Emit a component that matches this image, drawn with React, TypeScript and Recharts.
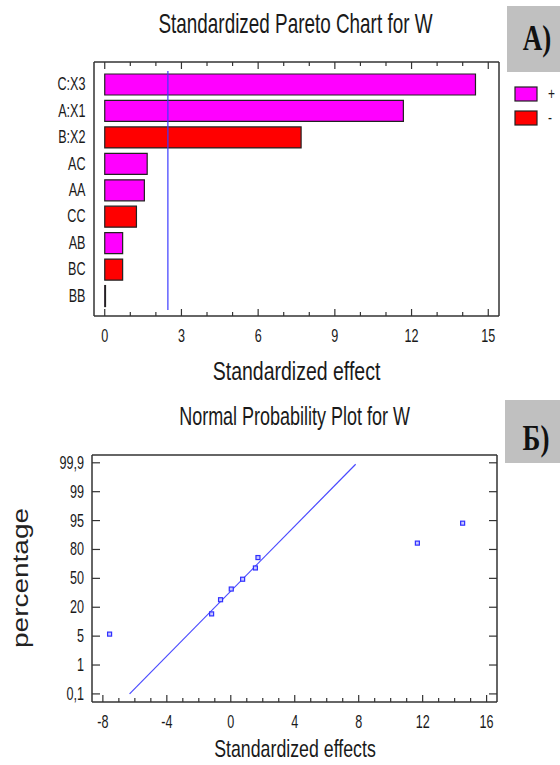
import { BarChart, Bar, Cell, XAxis, YAxis, ReferenceLine, ScatterChart, Scatter } from 'recharts'

const FONT = '"Liberation Sans", Arial, sans-serif'
const SERIF = '"Liberation Serif", "Times New Roman", serif'
const INK = '#1a1a1a'
const FRAME = { stroke: '#333', strokeWidth: 1.5 }

// Pareto chart data (sorted by size of effect)
const factors = ['C:X3', 'A:X1', 'B:X2', 'AC', 'AA', 'CC', 'AB', 'BC', 'BB']
const effects = [14.5, 11.68, 7.68, 1.66, 1.55, 1.24, 0.7, 0.7, 0.03]
const effectSigns = ['+', '+', '-', '+', '+', '-', '+', '-', '+']
const criticalEffect = 2.47
const paretoTicks = [0, 1, 2, 3, 4, 5, 6, 7, 8, 9, 10, 11, 12, 13, 14, 15]
const paretoLabels = [0, 3, 6, 9, 12, 15]

// normal probability plot data
const probEffects = [-7.58, -1.2, -0.64, 0.03, 0.74, 1.54, 1.7, 11.67, 14.5]
const probRanks = [2.07, 2.77, 3.26, 3.63, 3.97, 4.36, 4.72, 5.22, 5.91]
const percentLabels = ['0,1', '1', '5', '20', '50', '80', '95', '99', '99,9']
const percentTicks = [0, 1, 2, 3, 4, 5, 6, 7, 8]
const probTicks = [-8, -7, -6, -5, -4, -3, -2, -1, 0, 1, 2, 3, 4, 5, 6, 7, 8, 9, 10, 11, 12, 13, 14, 15, 16]
const probLabels = [-8, -4, 0, 4, 8, 12, 16]
const fitLineX = [-6.33, 7.81]
const fitLineY = [0, 7.95]

const signColors: Record<string, string> = { '+': '#ff00ff', '-': '#ff0000' }

const paretoData = factors.map((name, i) => ({ name, value: effects[i], sign: effectSigns[i] }))
const probData = probEffects.map((x, i) => ({ x, y: probRanks[i] }))

function XTick(props: any) {
  const { x, y, payload, labels, side } = props
  const v = payload.value
  const major = labels.includes(v)
  const len = major ? 7 : 4
  const dir = side === 'bottom' ? -1 : 1
  return (
    <g>
      <line x1={x} x2={x} y1={y} y2={y + dir * len} stroke="#333" strokeWidth={1.2} />
      {side === 'bottom' && major && (
        <text transform={`translate(${x},${y + 26}) scale(0.7,1)`} textAnchor="middle" fontSize={18} fill={INK} fontFamily={FONT}>
          {v}
        </text>
      )}
    </g>
  )
}

function FactorTick(props: any) {
  const { x, y, payload } = props
  return (
    <text transform={`translate(${x - 8.5},${y + 6}) scale(0.7,1)`} textAnchor="end" fontSize={18} fill={INK} fontFamily={FONT}>
      {payload.value}
    </text>
  )
}

function PctTick(props: any) {
  const { x, y, payload, side } = props
  const dir = side === 'left' ? 1 : -1
  return (
    <g>
      <line x1={x} x2={x + dir * 8} y1={y} y2={y} stroke="#333" strokeWidth={1.2} />
      {side === 'left' && (
        <text transform={`translate(${x - 8},${y + 6}) scale(0.7,1)`} textAnchor="end" fontSize={18} fill={INK} fontFamily={FONT}>
          {percentLabels[payload.value]}
        </text>
      )}
    </g>
  )
}

const CritLine = (p: any) => {
  const top = Math.min(p.y1, p.y2) + 9
  const bottom = Math.max(p.y1, p.y2) - 6
  return <line x1={p.x1} x2={p.x2} y1={top} y2={bottom} stroke="#3b3bff" strokeWidth={1.2} />
}

const PointShape = (p: any) => (
  <rect x={p.cx - 2} y={p.cy - 2} width={4} height={4} fill="#c8c8ff" stroke="#3030ff" strokeWidth={1.2} />
)

function ParetoChart() {
  return (
    <BarChart width={560} height={390} data={paretoData} layout="vertical" margin={{ top: 0, right: 0, bottom: 0, left: 0 }}>
      <XAxis xAxisId="bottom" type="number" domain={[-0.42, 15.42]} allowDataOverflow ticks={paretoTicks} interval={0}
        height={74} tickSize={0} tickMargin={0} tickLine={false} axisLine={FRAME}
        tick={(p: any) => <XTick {...p} labels={paretoLabels} side="bottom" />} />
      <XAxis xAxisId="top" orientation="top" type="number" domain={[-0.42, 15.42]} allowDataOverflow ticks={paretoTicks} interval={0}
        height={62} tickSize={0} tickMargin={0} tickLine={false} axisLine={FRAME}
        tick={(p: any) => <XTick {...p} labels={paretoLabels} side="top" />} />
      <YAxis yAxisId="left" type="category" dataKey="name" width={94} padding={{ top: 9, bottom: 7 }} interval={0}
        tickSize={0} tickMargin={0} tickLine={false} axisLine={FRAME} tick={(p: any) => <FactorTick {...p} />} />
      <YAxis yAxisId="right" orientation="right" type="category" dataKey="name" width={61} tick={false} tickLine={false} axisLine={FRAME} />
      <Bar xAxisId="bottom" yAxisId="left" dataKey="value" barSize={21} stroke="#222" strokeWidth={1.2} isAnimationActive={false}>
        {paretoData.map((d) => (
          <Cell key={d.name} fill={signColors[d.sign]} />
        ))}
      </Bar>
      <ReferenceLine xAxisId="bottom" yAxisId="left" x={criticalEffect} shape={CritLine} />
    </BarChart>
  )
}

function ProbabilityChart() {
  return (
    <ScatterChart width={560} height={375} margin={{ top: 0, right: 0, bottom: 0, left: 0 }}>
      <XAxis xAxisId="bottom" dataKey="x" type="number" domain={[-8.68, 16.65]} allowDataOverflow ticks={probTicks} interval={0}
        height={63} tickSize={0} tickMargin={0} tickLine={false} axisLine={FRAME}
        tick={(p: any) => <XTick {...p} labels={probLabels} side="bottom" />} />
      <XAxis xAxisId="top" orientation="top" type="number" domain={[-8.68, 16.65]} allowDataOverflow ticks={probTicks} interval={0}
        height={65} tickSize={0} tickMargin={0} tickLine={false} axisLine={FRAME}
        tick={(p: any) => <XTick {...p} labels={probLabels} side="top" />} />
      <YAxis yAxisId="left" dataKey="y" type="number" domain={[-0.28, 8.27]} allowDataOverflow ticks={percentTicks} interval={0}
        width={92} tickSize={0} tickMargin={0} tickLine={false} axisLine={FRAME}
        tick={(p: any) => <PctTick {...p} side="left" />} />
      <YAxis yAxisId="right" orientation="right" type="number" domain={[-0.28, 8.27]} allowDataOverflow ticks={percentTicks} interval={0}
        width={63} tickSize={0} tickMargin={0} tickLine={false} axisLine={FRAME}
        tick={(p: any) => <PctTick {...p} side="right" />} />
      <ReferenceLine xAxisId="bottom" yAxisId="left"
        segment={[{ x: fitLineX[0], y: fitLineY[0] }, { x: fitLineX[1], y: fitLineY[1] }]}
        stroke="#4a4aff" strokeWidth={1.2} />
      <Scatter xAxisId="bottom" yAxisId="left" data={probData} shape={PointShape} isAnimationActive={false} />
    </ScatterChart>
  )
}

export default function App() {
  return (
    <div style={{ position: 'absolute', left: 0, top: 0, width: 560, height: 765, background: '#fff', overflow: 'hidden' }}>
      <div style={{ position: 'absolute', left: 0, top: 0 }}>
        <ParetoChart />
      </div>
      <div style={{ position: 'absolute', left: 0, top: 390 }}>
        <ProbabilityChart />
      </div>
      <svg width={560} height={765} style={{ position: 'absolute', left: 0, top: 0, pointerEvents: 'none' }}>
        <text transform="translate(295.5,33) scale(0.7,1)" textAnchor="middle" fontSize={27} fill={INK} fontFamily={FONT}>
          Standardized Pareto Chart for W
        </text>
        <text transform="translate(296.5,380) scale(0.78,1)" textAnchor="middle" fontSize={25} fill={INK} fontFamily={FONT}>
          Standardized effect
        </text>
        <rect x={507} y={6} width={53} height={66} fill="#c0c0c0" />
        <text transform="translate(537,50) scale(0.75,1)" textAnchor="middle" fontSize={36} fontWeight="bold" fill="#111" fontFamily={SERIF}>
          A)
        </text>
        <rect x={515} y={87} width={22} height={14} fill="#ff00ff" stroke="#222" strokeWidth={1.2} />
        <rect x={515} y={111} width={22} height={14} fill="#ff0000" stroke="#222" strokeWidth={1.2} />
        <text transform="translate(548,99) scale(0.7,1)" fontSize={17} fill={INK} fontFamily={FONT}>+</text>
        <text transform="translate(548,123) scale(0.7,1)" fontSize={17} fill={INK} fontFamily={FONT}>-</text>

        <text transform="translate(294.6,425) scale(0.72,1)" textAnchor="middle" fontSize={25} fill={INK} fontFamily={FONT}>
          Normal Probability Plot for W
        </text>
        <text transform="translate(295,757) scale(0.74,1)" textAnchor="middle" fontSize={24} fill={INK} fontFamily={FONT}>
          Standardized effects
        </text>
        <text transform="translate(28,578) rotate(-90) scale(1,0.8)" textAnchor="middle" fontSize={28} fill="#222" fontFamily={FONT} textLength={140} lengthAdjust="spacingAndGlyphs">
          percentage
        </text>
        <rect x={505} y={400} width={55} height={63} fill="#c0c0c0" />
        <text transform="translate(536,450) scale(0.75,1)" textAnchor="middle" fontSize={36} fontWeight="bold" fill="#111" fontFamily={SERIF}>
          Б)
        </text>
      </svg>
    </div>
  )
}
